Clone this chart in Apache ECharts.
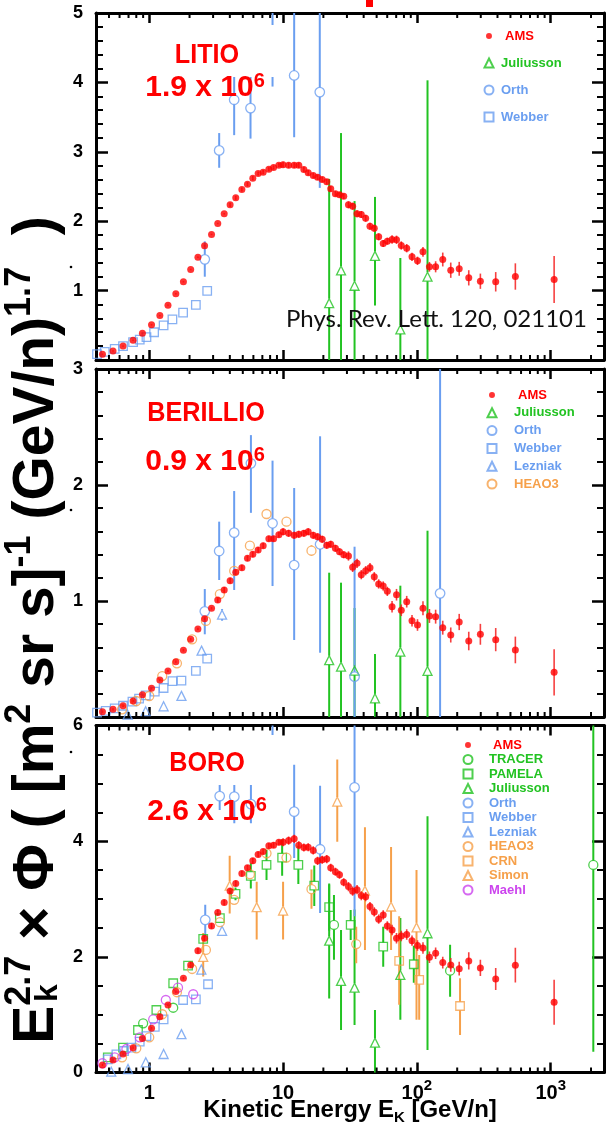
<!DOCTYPE html>
<html>
<head>
<meta charset="utf-8">
<title>Li Be B</title>
<script src="https://cdn.jsdelivr.net/npm/echarts@6/dist/echarts.min.js"></script>
<style>
    html, body { margin: 0; padding: 0; background: #fff; }
    #contain { width: 607px; height: 1127px; }
</style>
</head>
<body>
<div id="contain"></div>
<script>
// energie AMS (GeV/n), comuni ai tre pannelli
var amsE = [0.447, 0.536, 0.637, 0.757, 0.889, 1.04, 1.20, 1.38, 1.58, 1.80,
    2.04, 2.31, 2.59, 2.92, 3.25, 3.63, 4.02, 4.43, 4.92, 5.42,
    5.94, 6.51, 7.10, 7.83, 8.49, 9.30, 10.0, 11.0, 12.1, 13.1,
    14.3, 15.4, 16.8, 18.1, 19.6, 21.2, 22.7, 24.6, 26.4, 28.4,
    30.8, 33.1, 35.7, 38.4, 41.4, 44.6, 48.0, 51.8, 56.0, 60.1,
    65.2, 70.4, 76.4, 83.9, 91.9, 101, 111, 124, 138, 156,
    179, 207, 244, 298, 388, 544, 1060];

var amsLi = [0.084, 0.13, 0.20, 0.285, 0.386, 0.507, 0.64, 0.79, 0.954, 1.127,
    1.304, 1.48, 1.645, 1.81, 1.967, 2.107, 2.236, 2.337, 2.457, 2.533,
    2.62, 2.687, 2.706, 2.749, 2.774, 2.807, 2.815, 2.805, 2.807, 2.807,
    2.745, 2.697, 2.658, 2.634, 2.60, 2.568, 2.467, 2.395, 2.38, 2.36,
    2.236, 2.216, 2.107, 2.097, 2.043, 1.928, 1.899, 1.775, 1.679, 1.712,
    1.736, 1.732, 1.65, 1.611, 1.487, 1.429, 1.559, 1.343, 1.343, 1.448,
    1.294, 1.314, 1.184, 1.135, 1.127, 1.203, 1.16];
var amsLiErr = [0.01, 0.01, 0.01, 0.01, 0.01, 0.01, 0.01, 0.01, 0.01, 0.01,
    0.01, 0.01, 0.01, 0.01, 0.01, 0.01, 0.03, 0.03, 0.03, 0.03,
    0.03, 0.03, 0.03, 0.03, 0.03, 0.03, 0.04, 0.04, 0.04, 0.04,
    0.04, 0.04, 0.04, 0.04, 0.04, 0.04, 0.04, 0.04, 0.04, 0.04,
    0.05, 0.05, 0.05, 0.05, 0.05, 0.05, 0.05, 0.05, 0.05, 0.05,
    0.06, 0.06, 0.06, 0.06, 0.06, 0.06, 0.07, 0.07, 0.08, 0.10,
    0.11, 0.10, 0.11, 0.11, 0.14, 0.19, 0.34];

var amsBe = [0.046, 0.066, 0.097, 0.138, 0.192, 0.247, 0.319, 0.397, 0.477, 0.575,
    0.67, 0.759, 0.848, 0.937, 1.009, 1.095, 1.175, 1.247, 1.287, 1.368,
    1.402, 1.44, 1.477, 1.537, 1.537, 1.572, 1.597, 1.583, 1.566, 1.575,
    1.583, 1.597, 1.566, 1.554, 1.532, 1.48, 1.489, 1.454, 1.425, 1.399,
    1.388, 1.29, 1.325, 1.227, 1.261, 1.287, 1.209, 1.147, 1.129, 1.083,
    0.951, 1.054, 0.92, 0.994, 0.83, 0.793, 0.937, 0.871, 0.865, 0.77,
    0.707, 0.819, 0.655, 0.713, 0.667, 0.578, 0.385];
var amsBeErr = [0.01, 0.01, 0.01, 0.01, 0.01, 0.01, 0.01, 0.01, 0.01, 0.01,
    0.01, 0.01, 0.01, 0.01, 0.025, 0.025, 0.025, 0.025, 0.025, 0.025,
    0.025, 0.025, 0.025, 0.025, 0.025, 0.025, 0.03, 0.03, 0.03, 0.03,
    0.03, 0.03, 0.03, 0.03, 0.03, 0.03, 0.03, 0.03, 0.03, 0.03,
    0.04, 0.04, 0.04, 0.04, 0.04, 0.04, 0.04, 0.04, 0.04, 0.04,
    0.05, 0.05, 0.05, 0.05, 0.05, 0.05, 0.06, 0.06, 0.06, 0.06,
    0.065, 0.07, 0.08, 0.09, 0.10, 0.115, 0.20];

var amsB = [0.13, 0.216, 0.32, 0.43, 0.59, 0.765, 0.965, 1.168, 1.40, 1.63,
    1.86, 2.107, 2.32, 2.535, 2.765, 2.94, 3.14, 3.27, 3.44, 3.54,
    3.66, 3.77, 3.82, 3.92, 3.93, 3.98, 3.98, 4.01, 4.04, 3.93,
    3.89, 3.895, 3.84, 3.66, 3.68, 3.69, 3.54, 3.47, 3.42, 3.29,
    3.215, 3.135, 3.16, 3.06, 3.04, 2.87, 2.777, 2.65, 2.725, 2.535,
    2.465, 2.32, 2.36, 2.385, 2.28, 2.195, 2.154, 1.993, 2.062, 1.90,
    1.86, 1.796, 1.93, 1.808, 1.618, 1.855, 1.214];
var amsBErr = [0.02, 0.02, 0.02, 0.02, 0.02, 0.02, 0.02, 0.02, 0.02, 0.02,
    0.05, 0.05, 0.05, 0.05, 0.05, 0.05, 0.05, 0.05, 0.05, 0.05,
    0.05, 0.05, 0.05, 0.05, 0.05, 0.05, 0.07, 0.07, 0.07, 0.07,
    0.07, 0.07, 0.07, 0.07, 0.07, 0.07, 0.07, 0.07, 0.07, 0.07,
    0.08, 0.08, 0.08, 0.08, 0.08, 0.08, 0.08, 0.08, 0.08, 0.08,
    0.09, 0.09, 0.09, 0.09, 0.09, 0.09, 0.10, 0.10, 0.10, 0.10,
    0.12, 0.12, 0.15, 0.14, 0.19, 0.30, 0.39];

// altri esperimenti: [E, valore, errore basso, errore alto]
var juliLi = [[22.1, 0.82, -1, 2.61], [27.1, 1.29, -1, 3.27], [34.2, 1.07, -1, 2.29],
    [48.6, 1.50, 0.785, 2.35], [75.2, 0.44, -1, 1.47], [120, 1.20, -1, 4.03]];
var orthLi = [[2.60, 1.45, 1.20, 1.71], [3.33, 3.02, 2.77, 3.27], [4.31, 3.75, 3.24, 4.5],
    [5.71, 3.63, 3.19, 4.5], [8.34, 5.3, 3.94, 6.6], [12.1, 4.10, 3.21, 5.5], [18.8, 3.86, 2.48, 5.4]];
var webLi = [[0.407, 0.084], [0.465, 0.118], [0.552, 0.161], [0.637, 0.20], [0.757, 0.257],
    [0.849, 0.295], [0.953, 0.329], [1.087, 0.40], [1.28, 0.50], [1.49, 0.584],
    [1.79, 0.684], [2.23, 0.795], [2.71, 0.997]];

var juliBe = [[22.1, 0.49, -1, 1.244], [27.1, 0.434, -1, 1.158], [34.2, 0.40, -1, 0.94],
    [48.6, 0.161, -1, 0.543], [75.2, 0.563, -1, 1.132], [120, 0.397, -1, 1.606]];
var orthBe = [[2.60, 0.911, 0.713, 1.103], [3.33, 1.431, 1.181, 1.684], [4.31, 1.589, 1.095, 1.948],
    [5.75, 2.187, 1.76, 2.43], [8.34, 1.67, 1.129, 2.21], [12.1, 1.31, 0.664, 1.974],
    [18.9, 1.489, 0.554, 2.42], [34.2, 0.348, -1, 1.468], [149, 1.066, -1, 4]];
var webBe = [[0.407, 0.037], [0.473, 0.052], [0.552, 0.075], [0.637, 0.097], [0.749, 0.132],
    [0.839, 0.158], [0.942, 0.187], [1.10, 0.218], [1.28, 0.25], [1.49, 0.31],
    [1.74, 0.313], [2.23, 0.397], [2.71, 0.503]];
var lezBe = [[0.69, 0.02], [0.94, 0.05], [1.28, 0.092], [1.74, 0.182], [2.46, 0.572],
    [3.50, 0.882, 0.83, 0.93]];
var heaoBe = [[0.626, 0.066], [0.80, 0.138], [1.0, 0.181], [1.25, 0.353], [1.61, 0.463],
    [2.09, 0.67], [2.65, 0.828], [3.37, 1.06], [4.31, 1.259], [5.65, 1.477],
    [7.52, 1.75, 1.72, 1.79], [10.6, 1.684, 1.66, 1.71], [16.3, 1.434, 1.39, 1.48]];

var tracerB = [[0.90, 0.85], [1.51, 1.12], [24.0, 2.552, 1.95, 3.07], [177, 1.76, 1.31, 2.21],
    [2080, 3.59, 0.36, 7]];
var pamB = [[0.49, 0.263], [0.637, 0.43], [0.824, 0.735], [1.13, 1.081], [1.51, 1.543],
    [1.95, 1.848], [2.53, 2.31], [3.37, 2.668], [4.41, 3.088, 2.98, 3.2], [5.74, 3.40, 3.18, 3.62],
    [7.52, 3.59, 3.33, 3.85], [9.84, 3.716, 3.40, 4.03], [13.0, 3.59, 3.26, 3.92],
    [17.1, 3.23, 2.88, 3.58], [22.1, 2.858, 2.45, 3.25], [32.0, 2.552, 2.29, 2.81],
    [56.0, 2.176, 1.83, 2.52], [94.8, 1.872, 1.55, 2.19]];
var juliB = [[22.1, 2.28, 1.28, 3.27], [27.1, 1.583, 0.735, 2.465], [34.2, 1.467, 0.82, 2.82],
    [48.6, 0.516, -1, 1.08], [75.2, 1.687, 0.91, 2.67], [120, 2.408, 0.39, 4.43]];
var orthB = [[2.62, 2.64, 2.35, 2.90], [3.36, 4.78, 4.54, 5.3], [4.32, 4.77, 4.31, 5.3],
    [5.75, 4.64, 4.31, 5.3], [8.34, 6.4, 5.5, 7], [12.1, 4.51, 3.71, 5.32],
    [18.9, 3.86, 2.76, 4.96], [34.2, 4.93, 2.70, 7]];
var webB = [[0.398, 0.118], [0.49, 0.228], [0.568, 0.315], [0.648, 0.372], [0.736, 0.43],
    [0.849, 0.533], [0.953, 0.63], [1.10, 0.79], [1.28, 0.92], [1.79, 1.254],
    [2.23, 1.266], [2.75, 1.526]];
var lezB = [[0.52, 0.014], [0.694, 0.06], [0.942, 0.176], [1.28, 0.32], [1.74, 0.663],
    [2.45, 1.78], [3.50, 2.45, 2.38, 2.52]];
var heaoB = [[0.626, 0.263], [0.80, 0.418], [1.0, 0.609], [1.25, 1.007], [1.61, 1.388],
    [2.09, 1.79], [2.65, 2.12], [3.37, 2.60], [4.31, 2.985], [5.65, 3.43],
    [7.52, 3.79], [10.6, 3.716], [16.3, 3.17, 2.83, 3.51], [35.2, 2.22, 1.89, 2.52]];
var crnB = [[73.7, 1.93, 1.17, 2.70], [104, 1.60, 0.91, 2.03], [210, 1.15, 0.65, 1.63]];
var simonB = [[2.53, 2.0, 1.66, 2.41], [3.99, 3.23, 2.75, 3.75], [6.35, 2.86, 2.30, 3.30],
    [10.0, 2.80, 2.30, 3.30], [25.4, 4.685, 3.99, 5.41], [40.9, 3.145, 2.12, 4.24],
    [64.1, 2.87, 2.12, 3.90], [99.3, 2.51, 0.91, 3.50]];
var maehlB = [[0.447, 0.16], [0.552, 0.263], [0.675, 0.406], [0.849, 0.609], [1.07, 0.92],
    [1.33, 1.254], [1.64, 1.467], [2.13, 1.353]];

// tick secondari dell'asse log
var minorTickE = [0.5, 0.6, 0.7, 0.8, 0.9, 2, 3, 4, 5, 6, 7, 8, 9,
    20, 30, 40, 50, 60, 70, 80, 90, 200, 300, 400, 500, 600, 700, 800, 900, 2000];

var panelNames = ['LITIO', 'BERILLIO', 'BORO'];
var panelScale = ['1.9 x 10', '0.9 x 10', '2.6 x 10'];
var legendP1 = ['AMS', 'Juliusson', 'Orth', 'Webber'];
var legendP2 = ['AMS', 'Juliusson', 'Orth', 'Webber', 'Lezniak', 'HEAO3'];
var legendP3 = ['AMS', 'TRACER', 'PAMELA', 'Juliusson', 'Orth', 'Webber', 'Lezniak', 'HEAO3', 'CRN', 'Simon', 'Maehl'];

var fontFam = "'Liberation Sans', Arial, Helvetica, sans-serif";
var red = '#ff0000', green = '#22c322', blue = '#6a9ef0', orange = '#f6a04a', magenta = '#cc44ee';

var xMin = 0.4, xMax = 2500;
var yMax = [5, 3, 6];
var yStep = [1, 1, 2];
var yMinorSplit = [5, 5, 4];
var gridTop = [13, 369, 725.5];
var gridHeight = [347, 348, 347];

var markStyle = {
    AMS: {symbol: 'circle', size: 7, color: red},
    Juliusson: {symbol: 'triangle', size: 9, color: green},
    TRACER: {symbol: 'circle', size: 9, color: green},
    PAMELA: {symbol: 'rect', size: 8.5, color: green},
    Orth: {symbol: 'circle', size: 9.5, color: blue},
    Webber: {symbol: 'rect', size: 8.5, color: blue},
    Lezniak: {symbol: 'triangle', size: 9, color: blue},
    HEAO3: {symbol: 'circle', size: 9, color: orange},
    CRN: {symbol: 'rect', size: 8.5, color: orange},
    Simon: {symbol: 'triangle', size: 9, color: orange},
    Maehl: {symbol: 'circle', size: 9, color: magenta}
};

function amsRows(vals, errs) {
    return amsE.map(function (e, i) {
        return [e, vals[i], vals[i] - errs[i], vals[i] + errs[i]];
    });
}

var panels = [
    [['Juliusson', juliLi], ['Orth', orthLi], ['Webber', webLi], ['AMS', amsRows(amsLi, amsLiErr)]],
    [['Juliusson', juliBe], ['Orth', orthBe], ['Webber', webBe], ['Lezniak', lezBe], ['HEAO3', heaoBe],
        ['AMS', amsRows(amsBe, amsBeErr)]],
    [['TRACER', tracerB], ['PAMELA', pamB], ['Juliusson', juliB], ['Orth', orthB], ['Webber', webB],
        ['Lezniak', lezB], ['HEAO3', heaoB], ['CRN', crnB], ['Simon', simonB], ['Maehl', maehlB],
        ['AMS', amsRows(amsB, amsBErr)]]
];

// barre d'errore: si interrompono sul marker vuoto
function errRender(gap, color, width) {
    return function (params, api) {
        var p = api.coord([api.value(0), api.value(1)]);
        var a = api.coord([api.value(0), api.value(2)]);
        var b = api.coord([api.value(0), api.value(3)]);
        var kids = [];
        if (a[1] > p[1] + gap) {
            kids.push({type: 'line', shape: {x1: p[0], y1: p[1] + gap, x2: p[0], y2: a[1]},
                style: {stroke: color, lineWidth: width}});
        }
        if (b[1] < p[1] - gap) {
            kids.push({type: 'line', shape: {x1: p[0], y1: p[1] - gap, x2: p[0], y2: b[1]},
                style: {stroke: color, lineWidth: width}});
        }
        return {type: 'group', children: kids};
    };
}

function minorTickRender(params, api) {
    var cs = params.coordSys;
    var x = api.coord([api.value(0), 1])[0];
    var yb = cs.y + cs.height, yt = cs.y;
    return {type: 'group', children: [
        {type: 'line', shape: {x1: x, y1: yb, x2: x, y2: yb - 5}, style: {stroke: '#000', lineWidth: 2}},
        {type: 'line', shape: {x1: x, y1: yt, x2: x, y2: yt + 5}, style: {stroke: '#000', lineWidth: 2}}
    ]};
}

var series = [];
var markerSeries = [];
panels.forEach(function (list, gi) {
    list.forEach(function (item) {
        var name = item[0], rows = item[1], st = markStyle[name];
        var withErr = rows.filter(function (r) { return r.length > 2; });
        if (withErr.length) {
            var isAms = name === 'AMS';
            series.push({
                name: name + ' err',
                type: 'custom',
                xAxisIndex: gi * 2,
                yAxisIndex: gi * 2,
                clip: true,
                silent: true,
                z: 2,
                itemStyle: {color: st.color},
                dimensions: ['x', 'y', 'lo', 'hi'],
                encode: {x: 0, y: 1},
                renderItem: errRender(isAms ? 0 : st.size / 2, isAms ? 'rgba(245,30,30,0.85)' : st.color, isAms ? 1.6 : 2),
                data: withErr
            });
        }
        var isAmsPts = name === 'AMS';
        var s = {
            name: name,
            type: 'scatter',
            xAxisIndex: gi * 2,
            yAxisIndex: gi * 2,
            symbol: st.symbol,
            symbolSize: st.size,
            silent: true,
            z: isAmsPts ? 4 : 3,
            itemStyle: isAmsPts ? {color: st.color} : {color: 'rgba(255,255,255,0)', borderColor: st.color, borderWidth: 1.3},
            data: rows.map(function (r) { return [r[0], r[1]]; })
        };
        markerSeries.push(s);
    });
    series.push({
        name: 'minor' + gi,
        type: 'custom',
        xAxisIndex: gi * 2,
        yAxisIndex: gi * 2,
        silent: true,
        z: 5,
        renderItem: minorTickRender,
        data: minorTickE.map(function (v) { return [v, 1]; })
    });
});
series = series.concat(markerSeries);

var grids = [], xAxes = [], yAxes = [];
[0, 1, 2].forEach(function (gi) {
    grids.push({left: 96, right: 3, top: gridTop[gi], height: gridHeight[gi], containLabel: false, outerBoundsMode: 'none'});
    ['bottom', 'top'].forEach(function (pos) {
        var showLab = gi === 2 && pos === 'bottom';
        var ax = {
            type: 'log', logBase: 10, gridIndex: gi, position: pos, min: xMin, max: xMax,
            axisLine: {show: true, onZero: false, lineStyle: {color: '#000', width: 3}},
            axisTick: {show: true, inside: true, length: 10, lineStyle: {color: '#000', width: 2.5}},
            minorTick: {show: false},
            splitLine: {show: false},
            axisLabel: {show: false}
        };
        if (showLab) {
            ax.axisLabel = {
                show: true, margin: 6, showMinLabel: false, showMaxLabel: false,
                formatter: function (v) {
                    var p = Math.round(Math.log(v) / Math.LN10);
                    if (Math.abs(v - Math.pow(10, p)) > 1e-6 * v) return '';
                    if (p === 0) return '{n|1}';
                    if (p === 1) return '{n|10}';
                    return '{n|10}{s|' + p + '}';
                },
                rich: {
                    n: {fontSize: 20, fontWeight: 'bold', color: '#000', fontFamily: fontFam, lineHeight: 30},
                    s: {fontSize: 15, fontWeight: 'bold', color: '#000', fontFamily: fontFam, verticalAlign: 'top', lineHeight: 16}
                }
            };
            ax.name = '{t|Kinetic Energy E}{k|K}{t| [GeV/n]}';
            ax.nameLocation = 'middle';
            ax.nameGap = 23;
            ax.nameMoveOverlap = false;
            ax.nameTextStyle = {
                rich: {
                    t: {fontSize: 24, fontWeight: 'bold', color: '#000', fontFamily: fontFam, lineHeight: 30},
                    k: {fontSize: 15, fontWeight: 'bold', color: '#000', fontFamily: fontFam, verticalAlign: 'bottom', lineHeight: 16}
                }
            };
        }
        xAxes.push(ax);
    });
    ['left', 'right'].forEach(function (pos) {
        yAxes.push({
            type: 'value', gridIndex: gi, position: pos, min: 0, max: yMax[gi], interval: yStep[gi],
            axisLine: {show: true, onZero: false, lineStyle: {color: '#000', width: 3}},
            axisTick: {show: true, inside: true, length: 12, lineStyle: {color: '#000', width: 2.5}},
            minorTick: {show: true, splitNumber: yMinorSplit[gi], length: 7, lineStyle: {color: '#000', width: 2}},
            splitLine: {show: false},
            axisLabel: {
                show: pos === 'left', showMinLabel: gi === 2, margin: 13,
                fontSize: 18, fontWeight: 'bold', color: '#000', fontFamily: fontFam
            }
        });
    });
});

function legendItems(names, padBase) {
    return names.map(function (n) {
        var st = markStyle[n];
        var it = {
            name: n,
            textStyle: {color: st.color, padding: [0, 0, 0, n === 'AMS' ? padBase + 4 : padBase]}
        };
        if (n === 'AMS') {
            it.icon = 'path://M0,0M10,10M1.7,5a3.3,3.3 0 1,0 6.6,0a3.3,3.3 0 1,0 -6.6,0';
        } else {
            it.icon = st.symbol;
        }
        return it;
    });
}

function legendCfg(names, left, top, gap, pad) {
    return {
        selectedMode: false, orient: 'vertical', left: left, top: top, padding: 0,
        itemWidth: 9, itemHeight: 9, itemGap: gap,
        textStyle: {fontSize: 13, fontWeight: 'bold', lineHeight: 13, fontFamily: fontFam},
        data: legendItems(names, pad)
    };
}

function panelTitle(text, x, y) {
    return {type: 'text', x: x, y: y, scaleX: 0.9, z: 20, silent: true,
        style: {text: text, fontSize: 28, fontWeight: 'bold', fontFamily: fontFam, fill: red,
            align: 'center', verticalAlign: 'middle'}};
}

function panelFactor(text, x, y) {
    return {type: 'text', x: x, y: y, z: 20, silent: true,
        style: {text: '{a|' + text + '}{b|6}', fill: red, align: 'center', verticalAlign: 'middle',
            rich: {
                a: {fontSize: 30, fontWeight: 'bold', fontFamily: fontFam, fill: red, lineHeight: 34},
                b: {fontSize: 20, fontWeight: 'bold', fontFamily: fontFam, fill: red, verticalAlign: 'top', lineHeight: 20}
            }}};
}

var yTitle = {
    type: 'text', x: 37, y: 630, rotation: Math.PI / 2, z: 20, silent: true,
    style: {
        text: '{m|E}{s|2.7}{m| × Φ ( [m}{s|2}{m| sr s]}{s|-1}{m| (GeV/n)}{s|1.7}{m|  )}',
        fill: '#000', align: 'center', verticalAlign: 'middle',
        rich: {
            m: {fontSize: 57, fontWeight: 'bold', fontFamily: fontFam, fill: '#000', lineHeight: 70},
            s: {fontSize: 36, fontWeight: 'bold', fontFamily: fontFam, fill: '#000', verticalAlign: 'top', lineHeight: 38}
        }
    }
};

var option = {
    animation: false,
    backgroundColor: '#fff',
    grid: grids,
    xAxis: xAxes,
    yAxis: yAxes,
    legend: [
        legendCfg(legendP1, 483.5, 29.5, 14, 2.5),
        legendCfg(legendP2, 486.5, 388.5, 4.8, 12.5),
        legendCfg(legendP3, 462.5, 738.5, 1.5, 11.5)
    ],
    graphic: [
        // riquadri bianchi sotto le scritte (come nell'originale)
        {type: 'rect', z: 15, silent: true, shape: {x: 140, y: 25, width: 140, height: 52}, style: {fill: '#fff'}},
        {type: 'rect', z: 15, silent: true, shape: {x: 140, y: 735, width: 140, height: 50}, style: {fill: '#fff'}},
        panelTitle(panelNames[0], 207, 55),
        panelFactor(panelScale[0], 205, 88),
        panelTitle(panelNames[1], 206, 413),
        panelFactor(panelScale[1], 205, 462),
        panelTitle(panelNames[2], 207, 763),
        panelFactor(panelScale[2], 207, 812),
        {type: 'text', left: 286, top: 307, z: 20, silent: true,
            style: {text: 'Phys. Rev. Lett. 120, 021101', fontSize: 24, fontFamily: 'Lato, sans-serif', fill: '#111'}},
        yTitle,
        {type: 'text', x: 48, y: 993, rotation: Math.PI / 2, z: 20, silent: true,
            style: {text: 'k', fontSize: 32, fontWeight: 'bold', fontFamily: fontFam, fill: '#000',
                align: 'center', verticalAlign: 'middle'}},
        {type: 'rect', z: 20, silent: true, shape: {x: 366, y: 0, width: 7, height: 7}, style: {fill: red}},
        {type: 'circle', z: 20, silent: true, shape: {cx: 71, cy: 267, r: 1.3}, style: {fill: '#000'}},
        {type: 'circle', z: 20, silent: true, shape: {cx: 71, cy: 510, r: 1.3}, style: {fill: '#000'}},
        {type: 'circle', z: 20, silent: true, shape: {cx: 71, cy: 752, r: 1.3}, style: {fill: '#000'}}
    ],
    series: series
};

var myChart = echarts.init(document.getElementById('contain'));
myChart.setOption(option);
</script>
</body>
</html>
